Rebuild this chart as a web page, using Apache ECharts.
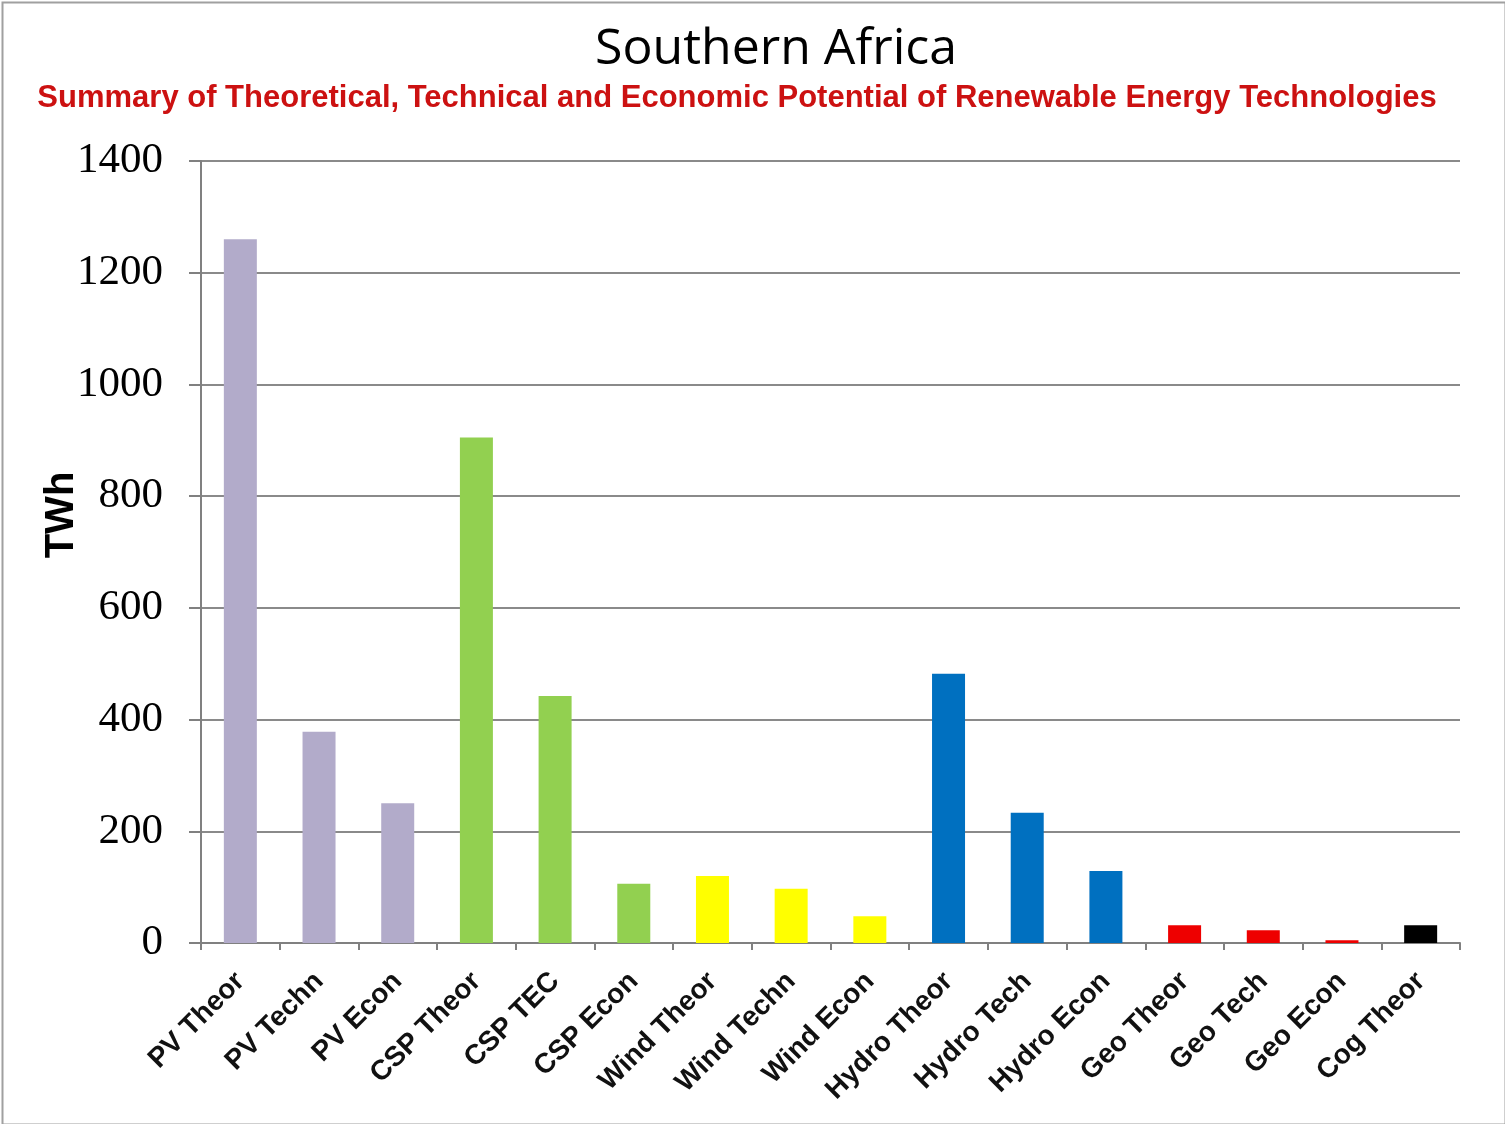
<!DOCTYPE html>
<html>
<head>
<meta charset="utf-8">
<script src="https://cdn.jsdelivr.net/npm/echarts@6/dist/echarts.min.js"></script>
<style>
  html, body { margin: 0; padding: 0; background: #fff; }
  #chart { width: 1505px; height: 1124px; }
</style>
</head>
<body>
<div id="chart"></div>
<script>
// Renewable energy potential, Southern Africa (TWh)
const categories = [
  'PV Theor', 'PV Techn', 'PV Econ',
  'CSP Theor', 'CSP TEC', 'CSP Econ',
  'Wind Theor', 'Wind Techn', 'Wind Econ',
  'Hydro Theor', 'Hydro Tech', 'Hydro Econ',
  'Geo Theor', 'Geo Tech', 'Geo Econ',
  'Cog Theor'
];
const values = [
  1260, 378, 250,
  905, 442, 106,
  120, 97, 48,
  482, 233, 129,
  32, 23, 5,
  32
];
// one colour per technology group
const barColors = [
  '#b2abca', '#b2abca', '#b2abca',
  '#92d050', '#92d050', '#92d050',
  '#ffff00', '#ffff00', '#ffff00',
  '#0070c0', '#0070c0', '#0070c0',
  '#ee0000', '#ee0000', '#ee0000',
  '#000000'
];
const yTicks = [0, 200, 400, 600, 800, 1000, 1200, 1400];

const chart = echarts.init(document.getElementById('chart'));
chart.setOption({
  backgroundColor: '#ffffff',
  animation: false,
  title: [
    {
      text: 'Southern Africa',
      left: 771,
      textAlign: 'center',
      top: 20,
      textStyle: { fontFamily: 'Open Sans', fontSize: 50, fontWeight: 500, color: '#000' }
    },
    {
      text: 'Summary of Theoretical, Technical and Economic Potential of Renewable Energy Technologies',
      left: 732,
      textAlign: 'center',
      top: 78,
      textStyle: { fontFamily: 'Liberation Sans', fontSize: 31, fontWeight: 'bold', color: '#cc1111' }
    }
  ],
  graphic: [
    {
      type: 'rect',
      left: 0, top: 0,
      shape: { width: 1503, height: 1122 },
      style: { fill: 'none', stroke: '#a0a0a0', lineWidth: 2 },
      silent: true
    },
    {
      type: 'text',
      x: 62,
      y: 515,
      rotation: Math.PI / 2,
      style: {
        text: 'TWh',
        fontFamily: 'Liberation Sans',
        fontWeight: 'bold',
        fontSize: 40,
        fill: '#000',
        align: 'center',
        verticalAlign: 'middle'
      },
      silent: true
    }
  ],
  grid: { left: 201, right: 45, top: 161, bottom: 181, containLabel: false },
  xAxis: {
    type: 'category',
    data: categories,
    axisLine: { lineStyle: { color: '#808080', width: 2 } },
    axisTick: { show: true, alignWithLabel: false, length: 7, lineStyle: { color: '#808080', width: 2 } },
    axisLabel: {
      rotate: 45,
      interval: 0,
      margin: 34,
      fontFamily: 'Liberation Sans',
      fontWeight: 'bold',
      fontSize: 28,
      color: '#111'
    }
  },
  yAxis: {
    type: 'value',
    min: 0,
    max: 1400,
    interval: 200,
    axisLine: { show: true, lineStyle: { color: '#808080', width: 2 } },
    axisTick: { show: true, length: 12, lineStyle: { color: '#808080', width: 2 } },
    axisLabel: {
      margin: 38,
      fontFamily: 'Liberation Serif',
      fontSize: 43,
      color: '#000',
      formatter: function (v) { return yTicks.indexOf(v) >= 0 ? String(v) : ''; }
    },
    splitLine: { show: true, lineStyle: { color: '#8a8a8a', width: 2 } }
  },
  series: [
    {
      type: 'bar',
      data: values.map(function (v, i) {
        return { value: v, itemStyle: { color: barColors[i] } };
      }),
      barWidth: 33
    }
  ]
});
</script>
</body>
</html>
